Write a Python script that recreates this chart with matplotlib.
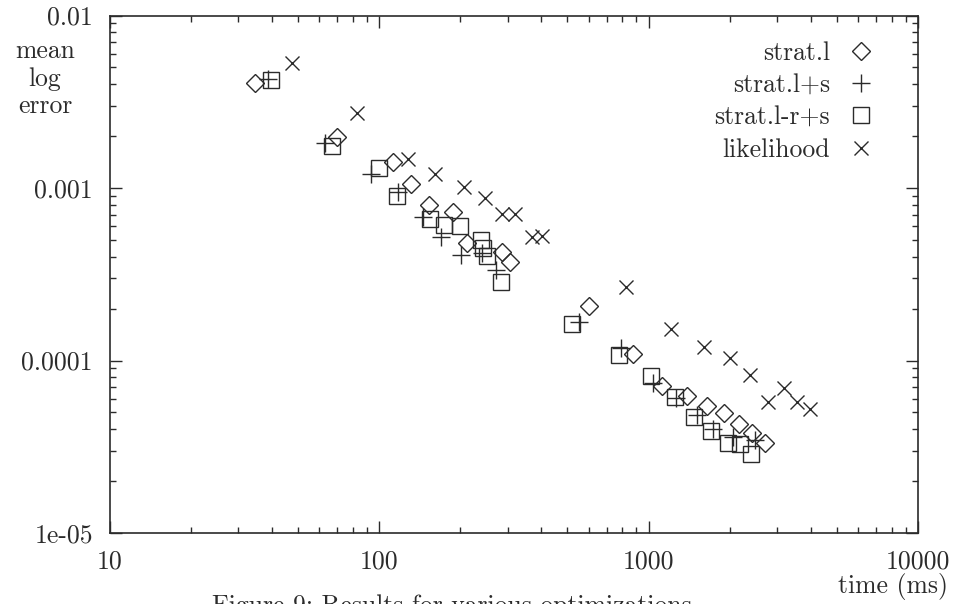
import matplotlib
matplotlib.use('Agg')
import matplotlib.pyplot as plt
from matplotlib.ticker import FixedLocator, LogLocator, NullFormatter

plt.rcParams['font.family'] = ['cmr10', 'DejaVu Serif']
plt.rcParams['axes.unicode_minus'] = False
plt.rcParams['mathtext.fontset'] = 'cm'

# time (ms) / mean log error
strat_l_t = [34.7, 69.8, 113, 132, 153, 188, 212, 286, 306, 601, 875, 1122, 1390, 1648, 1905, 2167, 2421, 2704]
strat_l_e = [0.00406, 0.00198, 0.00142, 0.00105, 0.000797, 0.000726, 0.000480, 0.000425, 0.000372,
             0.000207, 0.000109, 0.0000711, 0.0000622, 0.0000544, 0.0000496, 0.0000429, 0.0000380, 0.0000333]

strat_ls_t = [38.8, 63.1, 93.3, 118, 146, 170, 201, 241, 272, 552, 791, 1040, 1265, 1513, 1735, 2057, 2483]
strat_ls_e = [0.00428, 0.00182, 0.00121, 0.000948, 0.000679, 0.000520, 0.000409, 0.000420, 0.000335,
              0.000167, 0.000118, 0.0000741, 0.0000607, 0.0000483, 0.0000401, 0.0000360, 0.0000346]

strat_lrs_t = [39.8, 66.9, 100, 117, 155, 174, 200, 239, 243, 252, 284, 520, 777, 1020, 1253, 1474, 1705, 1972, 2184, 2401]
strat_lrs_e = [0.00423, 0.00175, 0.00131, 0.000899, 0.000661, 0.000610, 0.000602, 0.000500, 0.000449, 0.000403,
               0.000285, 0.000163, 0.000108, 0.0000813, 0.0000614, 0.0000470, 0.0000390, 0.0000333, 0.0000328, 0.0000287]

likelihood_t = [47.6, 82.8, 128, 161, 207, 247, 286, 320, 370, 403, 826, 1213, 1608, 2006, 2380, 2775, 3182, 3556, 3975]
likelihood_e = [0.00531, 0.00272, 0.00147, 0.00121, 0.00101, 0.000875, 0.000707, 0.000707, 0.000520, 0.000527,
                0.000267, 0.000152, 0.000120, 0.000103, 0.0000824, 0.0000574, 0.0000693, 0.0000574, 0.0000523]

x_ticks = [10, 100, 1000, 10000]
x_labels = ['10', '100', '1000', '10000']
y_ticks = [1e-05, 0.0001, 0.001, 0.01]
y_labels = ['1e-05', '0.0001', '0.001', '0.01']

ink = '#2b2b2b'
fs = 18.5

fig = plt.figure(figsize=(9.72, 6.04), dpi=100)
ax = fig.add_axes([109.5 / 972, 1 - 533 / 604, (918 - 109.5) / 972, (533 - 15.5) / 604])

ax.plot(strat_l_t, strat_l_e, linestyle='none', marker='D', markersize=8.8, markerfacecolor='none',
        markeredgecolor=ink, markeredgewidth=1.0, label='strat.l')
ax.plot(strat_ls_t, strat_ls_e, linestyle='none', marker='+', markersize=12.5,
        markeredgecolor=ink, markeredgewidth=1.0, label='strat.l+s')
ax.plot(strat_lrs_t, strat_lrs_e, linestyle='none', marker='s', markersize=11.5, markerfacecolor='none',
        markeredgecolor=ink, markeredgewidth=1.0, label='strat.l-r+s')
ax.plot(likelihood_t, likelihood_e, linestyle='none', marker='x', markersize=10.5,
        markeredgecolor=ink, markeredgewidth=1.0, label='likelihood')

ax.set_xscale('log')
ax.set_yscale('log')
ax.set_xlim(10, 10000)
ax.set_ylim(1e-05, 0.01)

ax.xaxis.set_major_locator(FixedLocator(x_ticks))
ax.set_xticklabels(x_labels)
ax.yaxis.set_major_locator(FixedLocator(y_ticks))
ax.set_yticklabels(y_labels)
ax.xaxis.set_minor_locator(LogLocator(base=10, subs=range(2, 10)))
ax.yaxis.set_minor_locator(LogLocator(base=10, subs=range(2, 10)))
ax.xaxis.set_minor_formatter(NullFormatter())
ax.yaxis.set_minor_formatter(NullFormatter())

ax.tick_params(which='both', direction='in', top=True, right=True, colors=ink, labelsize=fs)
ax.tick_params(which='major', length=8.5, width=1.0)
ax.tick_params(which='minor', length=4, width=1.0)
ax.tick_params(axis='x', which='major', pad=12)
ax.tick_params(axis='y', which='major', pad=12)
for s in ax.spines.values():
    s.set_linewidth(1.2)
    s.set_color(ink)

leg = ax.legend(loc='upper right', bbox_to_anchor=(0.958, 0.97), markerfirst=False, frameon=False,
                fontsize=fs, handlelength=1.0, handletextpad=0.7, labelspacing=0.33, borderaxespad=0)
for t in leg.get_texts():
    t.set_color(ink)

fig.text(45 / 972, 1 - 79 / 604, 'mean\nlog\nerror', ha='center', va='center', multialignment='center',
         fontsize=fs, color=ink, linespacing=1.2)
fig.text(948 / 972, 1 - 587 / 604, 'time (ms)', ha='right', va='center', fontsize=fs, color=ink)
fig.text(452 / 972, 1 - 594 / 604, 'Figure 9: Results for various optimizations', ha='center', va='top',
         fontsize=fs, color=ink)

fig.savefig('out.png', dpi=100)
